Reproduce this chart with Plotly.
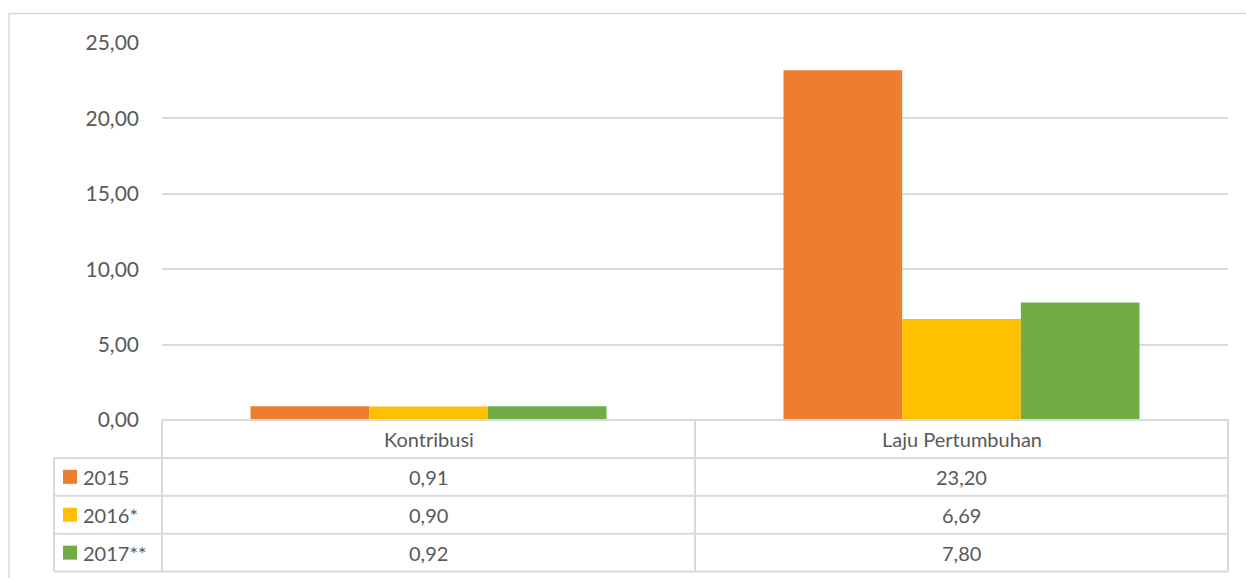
import plotly.graph_objects as go

# data
categories = ["Kontribusi", "Laju Pertumbuhan"]
series_names = ["2015", "2016*", "2017**"]
values_2015 = [0.91, 23.20]
values_2016 = [0.90, 6.69]
values_2017 = [0.92, 7.80]
y_ticks = [0, 5, 10, 15, 20, 25]

series_values = [values_2015, values_2016, values_2017]
colors = ["#ED7D31", "#FFC000", "#70AD47"]

WIDTH, HEIGHT = 1246, 578
PLOT_LEFT, PLOT_RIGHT = 162, 1228
PLOT_TOP, PLOT_BOTTOM = 42.5, 420.5
ROW_H = 38
GRID = "#d9d9d9"
TEXT = "#595959"
FONT = "Lato, 'Open Sans', sans-serif"


def fmt(v):
    return f"{v:.2f}".replace(".", ",")


def px_x(px):
    return (px - PLOT_LEFT) / (PLOT_RIGHT - PLOT_LEFT)


def px_y(py):
    return (PLOT_BOTTOM - py) / (PLOT_BOTTOM - PLOT_TOP)


fig = go.Figure()
for name, vals, color in zip(series_names, series_values, colors):
    fig.add_trace(
        go.Bar(
            x=categories,
            y=vals,
            name=name,
            marker=dict(color=color, line=dict(width=0)),
            showlegend=False,
        )
    )

shapes = []
annotations = []


def hline(py, x0, x1):
    shapes.append(dict(type="line", xref="paper", yref="paper",
                       x0=px_x(x0), x1=px_x(x1), y0=px_y(py), y1=px_y(py),
                       line=dict(color=GRID, width=2)))


def vline(px, y0, y1):
    shapes.append(dict(type="line", xref="paper", yref="paper",
                       x0=px_x(px), x1=px_x(px), y0=px_y(y0), y1=px_y(y1),
                       line=dict(color=GRID, width=2)))


# outer chart frame (left and top edges visible)
shapes.append(dict(type="rect", xref="paper", yref="paper",
                   x0=px_x(9), x1=px_x(WIDTH + 20), y0=px_y(HEIGHT + 20), y1=px_y(13),
                   line=dict(color=GRID, width=1.5), layer="below"))

# data table grid
table_bottom = PLOT_BOTTOM + ROW_H * 4
hline(PLOT_BOTTOM, PLOT_LEFT, PLOT_RIGHT)
for i in range(1, 5):
    hline(PLOT_BOTTOM + ROW_H * i, 54, PLOT_RIGHT)
vline(PLOT_LEFT, PLOT_BOTTOM, table_bottom)
vline((PLOT_LEFT + PLOT_RIGHT) / 2, PLOT_BOTTOM, table_bottom)
vline(PLOT_RIGHT, PLOT_BOTTOM, table_bottom)
vline(54, PLOT_BOTTOM + ROW_H, table_bottom)

# header row
for cat in categories:
    annotations.append(dict(x=cat, xref="x", y=px_y(PLOT_BOTTOM + ROW_H / 2), yref="paper",
                            text=cat, showarrow=False, xanchor="center", yanchor="middle",
                            font=dict(family=FONT, size=20, color=TEXT)))

# series rows
for i, (name, vals, color) in enumerate(zip(series_names, series_values, colors)):
    cy = PLOT_BOTTOM + ROW_H * (i + 1.5)
    shapes.append(dict(type="rect", xref="paper", yref="paper",
                       x0=px_x(63), x1=px_x(77), y0=px_y(cy + 7), y1=px_y(cy - 7),
                       fillcolor=color, line=dict(width=0)))
    annotations.append(dict(x=px_x(81), xref="paper", y=px_y(cy), yref="paper",
                            text=name, showarrow=False, xanchor="left", yanchor="middle",
                            font=dict(family=FONT, size=20, color=TEXT)))
    for cat, v in zip(categories, vals):
        annotations.append(dict(x=cat, xref="x", y=px_y(cy), yref="paper",
                                text=fmt(v), showarrow=False, xanchor="center", yanchor="middle",
                                font=dict(family=FONT, size=20, color=TEXT)))

fig.update_layout(
    width=WIDTH,
    height=HEIGHT,
    margin=dict(l=PLOT_LEFT, r=WIDTH - PLOT_RIGHT, t=PLOT_TOP, b=HEIGHT - PLOT_BOTTOM, pad=0),
    paper_bgcolor="white",
    plot_bgcolor="white",
    barmode="group",
    bargap=0.332,
    bargroupgap=0,
    font=dict(family=FONT, size=20, color=TEXT),
    xaxis=dict(showticklabels=False, showgrid=False, showline=False, zeroline=False,
               ticks=""),
    yaxis=dict(range=[0, 25], tickvals=y_ticks, ticktext=[fmt(t) for t in y_ticks],
               showgrid=True, gridcolor=GRID, gridwidth=1.5, zeroline=False,
               showline=False, ticks="", ticklabelstandoff=22,
               tickfont=dict(family=FONT, size=21, color=TEXT)),
    shapes=shapes,
    annotations=annotations,
)

# drop the browser's default body margin so the figure sits at the window origin
fig.write_html(
    "out.html",
    config={"displayModeBar": False},
    post_script="document.body.style.margin='0';",
)
